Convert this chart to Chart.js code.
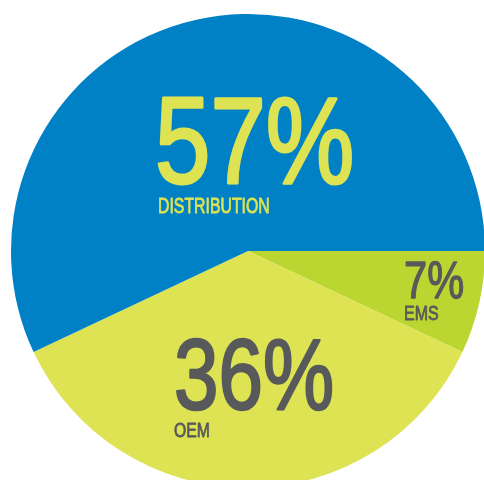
<!DOCTYPE html>
<html>
<head>
<meta charset="utf-8">
<script src="https://cdn.jsdelivr.net/npm/chart.js@4"></script>
<style>
  html, body { margin: 0; padding: 0; background: #ffffff; overflow: hidden; width: 484px; height: 480px; }
  #wrap { position: absolute; left: 0; top: 0; width: 500px; height: 500px; }
</style>
</head>
<body>
<div id="wrap"><canvas id="c"></canvas></div>
<script>
const categories = ['EMS', 'OEM', 'DISTRIBUTION'];
const shares = [7, 36, 57];

// label placement relative to pie centre (px), font sizes, stroke weight and horizontal condensing
const labelStyle = [
  { pctDx: 156, pctDy: 47, pctSize: 52, pctStroke: 1.3, pctScale: 0.80, nameDx: 156, nameDy: 69, nameSize: 20, nameStroke: 0.8, nameScale: 0.80, color: '#58595b' },
  { pctDx: -74, pctDy: 158, pctSize: 100, pctStroke: 2.4, pctScale: 0.80, nameDx: -74, nameDy: 186, nameSize: 21, nameStroke: 0.8, nameScale: 0.75, color: '#58595b' },
  { pctDx: -93, pctDy: -68, pctSize: 123, pctStroke: 3.0, pctScale: 0.81, nameDx: -90, nameDy: -38, nameSize: 22, nameStroke: 0.8, nameScale: 0.72, color: '#dde352' }
];

function drawText(ctx, text, x, y, size, stroke, sx, color) {
  ctx.save();
  ctx.translate(x, y);
  ctx.scale(sx, 1);
  ctx.font = 'normal ' + size + 'px "Liberation Sans", Arial, sans-serif';
  ctx.fillStyle = color;
  ctx.strokeStyle = color;
  ctx.lineWidth = stroke;
  ctx.lineJoin = 'round';
  ctx.fillText(text, 0, 0);
  ctx.strokeText(text, 0, 0);
  ctx.restore();
}

const labelPlugin = {
  id: 'sliceLabels',
  afterDatasetsDraw(chart) {
    const ctx = chart.ctx;
    const arc = chart.getDatasetMeta(0).data[0];
    const cx = arc.x, cy = arc.y;
    ctx.save();
    ctx.textAlign = 'left';
    ctx.textBaseline = 'alphabetic';
    categories.forEach((name, i) => {
      const s = labelStyle[i];
      drawText(ctx, shares[i] + '%', cx + s.pctDx, cy + s.pctDy, s.pctSize, s.pctStroke, s.pctScale, s.color);
      drawText(ctx, name, cx + s.nameDx, cy + s.nameDy, s.nameSize, s.nameStroke, s.nameScale, s.color);
    });
    ctx.restore();
  }
};

new Chart(document.getElementById('c'), {
  type: 'pie',
  data: {
    labels: categories,
    datasets: [{
      data: shares,
      backgroundColor: ['#bbd531', '#dde352', '#0081c6'],
      borderWidth: 0,
      hoverOffset: 0
    }]
  },
  options: {
    responsive: true,
    maintainAspectRatio: false,
    animation: false,
    rotation: 90,
    layout: { padding: { left: 11, top: 14, right: 15, bottom: 12 } },
    plugins: {
      legend: { display: false },
      tooltip: { enabled: false }
    }
  },
  plugins: [labelPlugin]
});
</script>
</body>
</html>
